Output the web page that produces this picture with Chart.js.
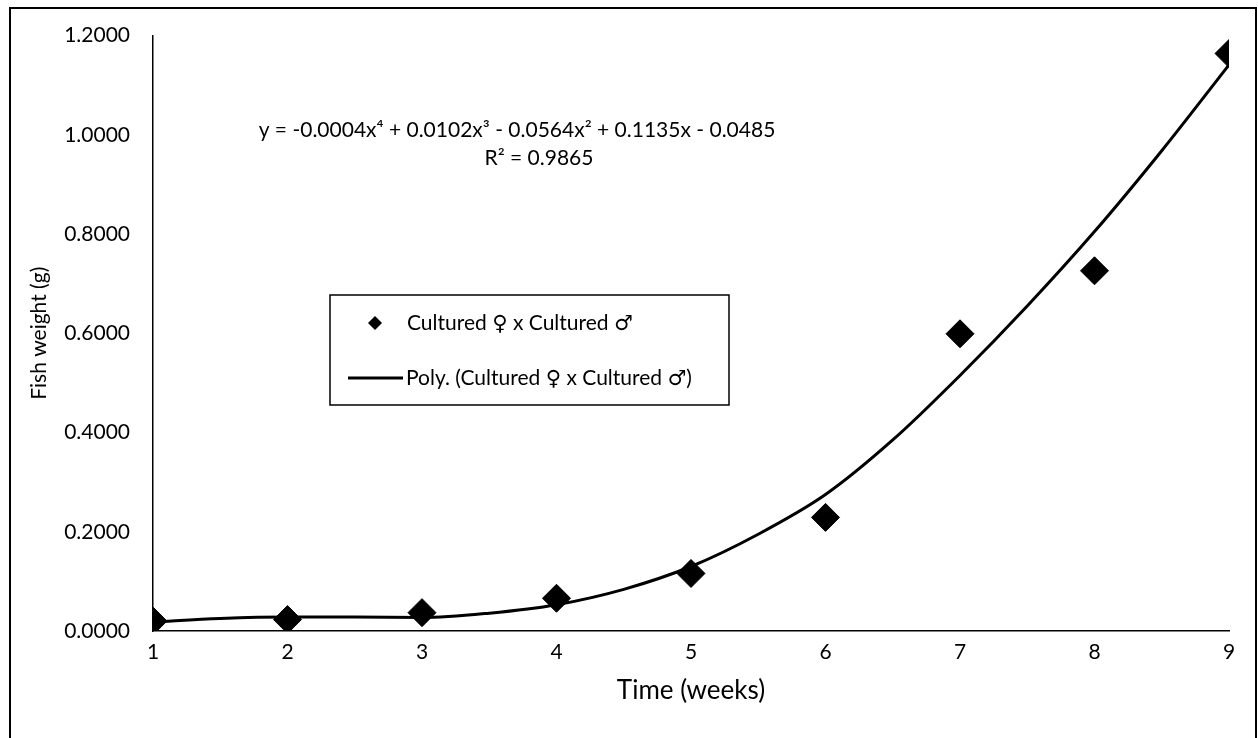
<!DOCTYPE html>
<html>
<head>
<meta charset="utf-8">
<title>Fish weight</title>
<script src="https://cdn.jsdelivr.net/npm/chart.js@4.4.1/dist/chart.umd.min.js"></script>
<style>
  html, body { margin: 0; padding: 0; background: #fff; }
  #wrap { width: 1258px; height: 738px; }
</style>
</head>
<body>
<div id="wrap"><canvas id="fishChart" width="1258" height="738"></canvas></div>
<script>
// values
const weeks = [1, 2, 3, 4, 5, 6, 7, 8, 9];
const weights = [0.020, 0.023, 0.037, 0.066, 0.116, 0.229, 0.599, 0.726, 1.164];

// trend line as seen in the picture
const trendWeeks = [1, 1.5, 2, 2.5, 3, 3.5, 4, 4.5, 5, 5.5, 6, 6.5, 7, 7.5, 8, 8.5, 9];
const trendWeights = [0.018, 0.025, 0.028, 0.028, 0.027, 0.036, 0.053, 0.084, 0.130, 0.195, 0.275, 0.385, 0.515, 0.655, 0.805, 0.968, 1.141];

const yTicks = [0, 0.2, 0.4, 0.6, 0.8, 1.0, 1.2];
const seriesLabel = 'Cultured \u2640 x Cultured \u2642';
const trendLabel = 'Poly. (Cultured \u2640 x Cultured \u2642)';
const equationText = 'y = -0.0004x\u2074 + 0.0102x\u00b3 - 0.0564x\u00b2 + 0.1135x - 0.0485';
const r2Text = 'R\u00b2 = 0.9865';

const FONT = 'Lato, "Open Sans", "DejaVu Sans", sans-serif';

// frame, equation and legend box
const extras = {
  id: 'extras',
  beforeDraw(chart) {
    const ctx = chart.ctx;
    ctx.save();
    ctx.fillStyle = '#fff';
    ctx.fillRect(0, 0, chart.width, chart.height);
    ctx.strokeStyle = '#000';
    ctx.lineWidth = 2;
    ctx.beginPath();
    ctx.moveTo(10, 740);
    ctx.lineTo(10, 8);
    ctx.lineTo(1256, 8);
    ctx.lineTo(1256, 740);
    ctx.stroke();
    ctx.restore();
  },
  afterDraw(chart) {
    const ctx = chart.ctx;
    ctx.save();
    ctx.fillStyle = '#000';
    ctx.font = '21px ' + FONT;
    ctx.textAlign = 'center';
    ctx.textBaseline = 'middle';
    ctx.fillText(equationText, 517, 130);
    ctx.fillText(r2Text, 539, 158);

    // legend
    ctx.fillStyle = '#fff';
    ctx.fillRect(330, 295, 399, 110);
    ctx.strokeStyle = '#000';
    ctx.lineWidth = 1.5;
    ctx.strokeRect(330, 295, 399, 110);

    ctx.fillStyle = '#000';
    ctx.beginPath();
    ctx.moveTo(375, 316);
    ctx.lineTo(382, 323);
    ctx.lineTo(375, 330);
    ctx.lineTo(368, 323);
    ctx.closePath();
    ctx.fill();

    ctx.lineWidth = 3;
    ctx.beginPath();
    ctx.moveTo(348, 378);
    ctx.lineTo(403, 378);
    ctx.stroke();

    ctx.textAlign = 'left';
    ctx.fillText(seriesLabel, 407, 323);
    ctx.fillText(trendLabel, 406, 378);
    ctx.restore();
  }
};

const ctx = document.getElementById('fishChart').getContext('2d');
const chart = new Chart(ctx, {
  type: 'scatter',
  data: {
    datasets: [
      {
        label: seriesLabel,
        data: weeks.map((w, i) => ({ x: w, y: weights[i] })),
        pointStyle: 'rectRot',
        pointRadius: 14,
        pointHoverRadius: 14,
        backgroundColor: '#000',
        borderColor: '#000',
        borderWidth: 1,
        order: 1
      },
      {
        label: trendLabel,
        data: trendWeeks.map((w, i) => ({ x: w, y: trendWeights[i] })),
        showLine: true,
        pointRadius: 0,
        borderColor: '#000',
        borderWidth: 3,
        cubicInterpolationMode: 'monotone',
        fill: false,
        order: 2
      }
    ]
  },
  options: {
    responsive: false,
    animation: false,
    devicePixelRatio: 1,
    layout: { padding: { top: 34, right: 29, left: 0, bottom: 0 } },
    plugins: {
      legend: { display: false },
      tooltip: { enabled: false }
    },
    scales: {
      x: {
        type: 'linear',
        min: 1,
        max: 9,
        grid: { display: false, drawTicks: false },
        border: { display: true, color: '#000', width: 1.5 },
        ticks: {
          stepSize: 1,
          padding: 9,
          color: '#000',
          font: { family: FONT, size: 21 }
        },
        title: {
          display: true,
          text: 'Time (weeks)',
          color: '#000',
          font: { family: FONT, size: 26 },
          padding: { top: 0, bottom: 32 }
        },
        afterFit(scale) { scale.height = 107; }
      },
      y: {
        type: 'linear',
        min: 0,
        max: 1.2,
        grid: { display: false, drawTicks: false },
        border: { display: true, color: '#000', width: 1.5 },
        afterBuildTicks(scale) { scale.ticks = yTicks.map(v => ({ value: v })); },
        ticks: {
          padding: 23,
          color: '#000',
          font: { family: FONT, size: 21 },
          callback: v => Number(v).toFixed(4)
        },
        title: {
          display: true,
          text: 'Fish weight (g)',
          color: '#000',
          font: { family: FONT, size: 21 },
          padding: { top: 27, bottom: 0 }
        },
        afterFit(scale) { scale.width = 153; }
      }
    }
  },
  plugins: [extras]
});
</script>
</body>
</html>
